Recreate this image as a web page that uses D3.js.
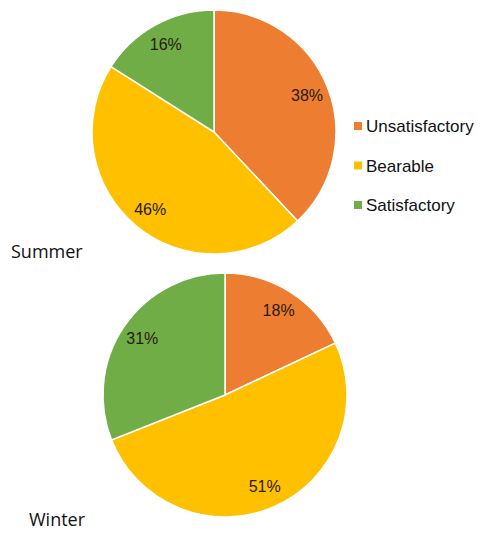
<!DOCTYPE html>
<html>
<head>
<meta charset="utf-8">
<script src="https://cdn.jsdelivr.net/npm/d3@7"></script>
<style>
  body { margin: 0; background: #fff; }
</style>
</head>
<body>
<div id="chart"></div>
<script>
// categories and values (percent)
var categories = ["Unsatisfactory", "Bearable", "Satisfactory"];
var summerValues = [38, 46, 16];
var winterValues = [18, 51, 31];
var seasons = ["Summer", "Winter"];
var colors = ["#ED7D31", "#FFC000", "#70AD47"];

var svg = d3.select("#chart")
  .append("svg")
    .attr("width", 483)
    .attr("height", 533);

var color = d3.scaleOrdinal().domain(categories).range(colors);

var pie = d3.pie().sort(null).value(function(d) { return d.value; });
var radius = 122;
var arc = d3.arc().innerRadius(0).outerRadius(radius);
var labelArc = d3.arc().innerRadius(radius * 0.82).outerRadius(radius * 0.82);

function drawPie(values, cx, cy, title, tx, ty) {
  var data = categories.map(function(c, i) { return {category: c, value: values[i]}; });
  var g = svg.append("g")
    .attr("transform", "translate(" + cx + "," + cy + ")");

  g.selectAll("path")
    .data(pie(data))
    .enter()
    .append("path")
      .attr("d", arc)
      .attr("fill", function(d) { return color(d.data.category); })
      .attr("stroke", "#fff")
      .attr("stroke-width", 1.5);

  g.selectAll("text")
    .data(pie(data))
    .enter()
    .append("text")
      .attr("transform", function(d) { return "translate(" + labelArc.centroid(d) + ")"; })
      .attr("text-anchor", "middle")
      .attr("dy", "0.35em")
      .attr("font-family", "Liberation Sans, Arial, sans-serif")
      .attr("font-size", "16px")
      .attr("fill", "#2a1a10")
      .text(function(d) { return d.data.value + "%"; });

  svg.append("text")
    .attr("x", tx)
    .attr("y", ty)
    .attr("font-family", "Open Sans, Noto Sans, sans-serif")
    .attr("font-size", "18px")
    .attr("fill", "#111")
    .text(title);
}

drawPie(summerValues, 214, 132, seasons[0], 11, 258);
drawPie(winterValues, 225, 395, seasons[1], 29, 526);

// legend
var legend = svg.append("g")
  .attr("transform", "translate(354,126)");
var legendY = d3.scalePoint().domain(categories).range([0, 79]);

var items = legend.selectAll("g")
  .data(categories)
  .enter()
  .append("g")
    .attr("transform", function(d) { return "translate(0," + legendY(d) + ")"; });

items.append("rect")
  .attr("x", 0)
  .attr("y", -4)
  .attr("width", 8)
  .attr("height", 8)
  .attr("fill", function(d) { return color(d); });

items.append("text")
  .attr("x", 12)
  .attr("dy", "0.36em")
  .attr("font-family", "Liberation Sans, Arial, sans-serif")
  .attr("font-size", "17px")
  .attr("fill", "#111")
  .text(function(d) { return d; });
</script>
</body>
</html>
